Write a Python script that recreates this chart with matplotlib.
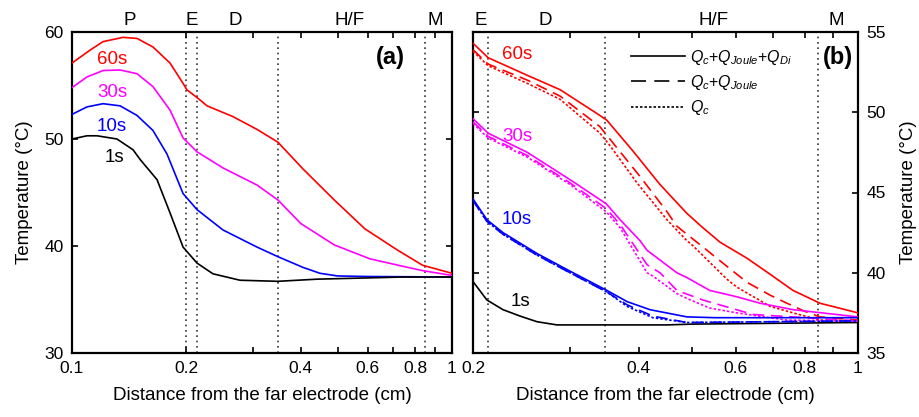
import matplotlib
matplotlib.use("Agg")
import matplotlib.pyplot as plt
from matplotlib.ticker import FixedLocator, FixedFormatter, NullLocator
from matplotlib.lines import Line2D
from matplotlib import font_manager

names = {f.name for f in font_manager.fontManager.ttflist}
fam = ['Liberation Sans Narrow'] if 'Liberation Sans Narrow' in names else ['Liberation Sans']
plt.rcParams['font.family'] = fam + ['DejaVu Sans']
plt.rcParams['mathtext.fontset'] = 'custom'
plt.rcParams['mathtext.it'] = fam[0] + ':italic'
plt.rcParams['mathtext.rm'] = fam[0]

# ---------------- data: panel (a) ----------------
a_red_x = [0.1, 0.1115, 0.1207, 0.1362, 0.1483, 0.1633, 0.1811, 0.196, 0.2006, 0.2146, 0.2266, 0.2649, 0.3067, 0.3483, 0.4054, 0.49, 0.59, 0.72, 0.8368, 1.0]
a_red_y = [57.1, 58.3, 59.1, 59.5, 59.4, 58.6, 57.1, 55.2, 54.6, 53.8, 53.1, 52.1, 50.9, 49.7, 47.2, 44.3, 41.6, 39.6, 38.2, 37.45]
a_mag_x = [0.1, 0.1095, 0.1207, 0.1338, 0.1483, 0.1633, 0.1811, 0.196, 0.2133, 0.2496, 0.3067, 0.3483, 0.40, 0.49, 0.6083, 0.7434, 0.8368, 1.0]
a_mag_y = [54.8, 55.8, 56.4, 56.45, 56.1, 54.9, 52.7, 50.1, 48.8, 47.3, 45.7, 44.3, 42.1, 40.1, 38.8, 38.1, 37.7, 37.25]
a_blu_x = [0.1, 0.1095, 0.1207, 0.1338, 0.1483, 0.1633, 0.1778, 0.196, 0.2133, 0.2496, 0.3067, 0.3483, 0.4054, 0.4494, 0.5, 0.6, 1.0]
a_blu_y = [52.3, 53.0, 53.3, 53.1, 52.2, 50.8, 48.6, 44.9, 43.4, 41.5, 39.9, 39.0, 38.0, 37.45, 37.2, 37.15, 37.1]
a_blk_x = [0.1, 0.1095, 0.1164, 0.1313, 0.1447, 0.151, 0.1674, 0.1811, 0.196, 0.2133, 0.235, 0.2768, 0.3483, 0.4412, 0.7434, 1.0]
a_blk_y = [50.0, 50.3, 50.3, 50.0, 49.0, 48.1, 46.2, 43.1, 39.9, 38.4, 37.4, 36.8, 36.7, 36.9, 37.1, 37.1]

# ---------------- data: panel (b) ----------------
b_red_solid_x = [0.2, 0.213, 0.251, 0.288, 0.340, 0.350, 0.390, 0.437, 0.489, 0.523, 0.562, 0.629, 0.693, 0.762, 0.853, 1.0]
b_red_solid_y = [54.3, 53.4, 52.3, 51.4, 49.8, 49.5, 47.6, 45.5, 43.7, 42.8, 41.9, 40.9, 39.9, 38.9, 38.1, 37.5]
b_red_dash_x = [0.2, 0.213, 0.251, 0.288, 0.340, 0.355, 0.402, 0.45, 0.469, 0.489, 0.532, 0.578, 0.629, 0.693, 0.743, 0.80, 0.853, 1.0]
b_red_dash_y = [53.9, 53.0, 52.0, 51.0, 49.1, 48.3, 46.0, 43.8, 42.9, 42.4, 41.4, 40.4, 39.4, 38.6, 38.1, 37.6, 37.25, 37.05]
b_red_dot_x = [0.2, 0.213, 0.251, 0.288, 0.340, 0.355, 0.397, 0.45, 0.489, 0.501, 0.578, 0.603, 0.693, 0.762, 0.853, 1.0]
b_red_dot_y = [53.8, 52.9, 51.8, 50.8, 48.7, 47.9, 45.6, 43.3, 42.0, 41.7, 39.6, 39.1, 37.9, 37.5, 37.05, 37.0]

b_mag_solid_x = [0.2, 0.213, 0.251, 0.300, 0.349, 0.370, 0.402, 0.414, 0.469, 0.489, 0.538, 0.603, 0.664, 0.762, 1.0]
b_mag_solid_y = [49.6, 48.7, 47.5, 45.8, 44.3, 43.3, 42.0, 41.4, 40.0, 39.7, 38.9, 38.5, 38.1, 37.7, 37.25]
b_mag_dash_x = [0.2, 0.213, 0.251, 0.300, 0.349, 0.370, 0.414, 0.437, 0.469, 0.523, 0.645, 1.0]
b_mag_dash_y = [49.4, 48.5, 47.3, 45.6, 44.0, 43.0, 40.5, 40.0, 38.9, 38.3, 37.4, 37.0]
b_mag_dot_x = [0.2, 0.213, 0.251, 0.300, 0.349, 0.370, 0.414, 0.424, 0.469, 0.489, 0.538, 0.603, 0.743, 1.0]
b_mag_dot_y = [49.3, 48.4, 47.2, 45.5, 43.8, 42.8, 40.0, 39.8, 38.7, 38.4, 37.8, 37.5, 37.05, 37.0]

b_blu_solid_x = [0.2, 0.212, 0.2267, 0.2613, 0.300, 0.350, 0.381, 0.419, 0.489, 0.55, 1.0]
b_blu_solid_y = [44.6, 43.3, 42.5, 41.2, 40.1, 38.9, 38.2, 37.7, 37.25, 37.2, 37.2]
b_blu_dash_x = [0.2, 0.212, 0.2267, 0.2613, 0.300, 0.350, 0.381, 0.424, 0.489, 1.0]
b_blu_dash_y = [44.5, 43.2, 42.4, 41.1, 40.0, 38.8, 38.0, 37.3, 36.9, 37.0]
b_blu_dot_x = [0.2, 0.212, 0.2267, 0.2613, 0.300, 0.350, 0.381, 0.424, 0.489, 1.0]
b_blu_dot_y = [44.5, 43.2, 42.4, 41.1, 40.0, 38.8, 37.9, 37.2, 36.9, 37.0]

b_blk_x = [0.2, 0.212, 0.2267, 0.2435, 0.2613, 0.284, 0.45, 0.5, 0.7, 1.0]
b_blk_y = [39.45, 38.3, 37.7, 37.3, 36.95, 36.75, 36.75, 36.8, 36.85, 36.9]

# region boundaries and labels
boundaries = [0.2, 0.213, 0.348, 0.847]
a_regions = ['P', 'E', 'D', 'H/F', 'M']
a_region_x = [0.142, 0.2065, 0.2685, 0.539, 0.902]
b_regions = ['E', 'D', 'H/F', 'M']
b_region_x = [0.2067, 0.271, 0.547, 0.912]

times = ['60s', '30s', '10s', '1s']
colors = ['#ff0000', '#ff00ff', '#0000ff', '#000000']
a_label_pos = [(0.1274, 57.4), (0.1274, 54.3), (0.1274, 51.2), (0.1297, 48.3)]
b_label_pos = [(0.2404, 53.6), (0.2404, 48.5), (0.2404, 43.3), (0.2435, 38.2)]

legend_labels = ['$Q_c$+$Q_{Joule}$+$Q_{Di}$', '$Q_c$+$Q_{Joule}$', '$Q_c$']

W, H = 920, 417
fig = plt.figure(figsize=(W / 100, H / 100), dpi=100)
axA = fig.add_axes([72 / W, 1 - 353 / H, 380 / W, 321 / H])
axB = fig.add_axes([473 / W, 1 - 353 / H, 385 / W, 321 / H])

LW = 1.2
FS = 12.5

def style(ax, xticks, xlabels, yticks, ylim, xlim):
    ax.set_xscale('log')
    ax.set_xlim(*xlim)
    ax.set_ylim(*ylim)
    ax.xaxis.set_major_locator(FixedLocator(xticks))
    ax.xaxis.set_major_formatter(FixedFormatter(xlabels))
    ax.xaxis.set_minor_locator(NullLocator())
    ax.set_yticks(yticks)
    ax.yaxis.set_minor_locator(NullLocator())
    ax.tick_params(direction='in', top=True, right=True, length=4, width=1.2,
                   labelsize=FS, pad=6)
    for s in ax.spines.values():
        s.set_linewidth(1.6)
    ax.set_xlabel('Distance from the far electrode (cm)', fontsize=FS + 1, labelpad=8)

ticks = [0.1, 0.2, 0.3, 0.4, 0.5, 0.6, 0.7, 0.8, 0.9, 1.0]
tlabels = ['0.1', '0.2', '', '0.4', '', '0.6', '', '0.8', '', '1']
style(axA, ticks, tlabels, [30, 40, 50, 60], (30, 60), (0.1, 1.0))
style(axB, ticks[1:], tlabels[1:], [35, 40, 45, 50, 55], (35, 55), (0.2, 1.0))
axB.yaxis.tick_right()
axB.tick_params(left=True, right=True, direction='in')
axB.yaxis.set_label_position('right')
axA.set_ylabel('Temperature (°C)', fontsize=FS + 1, labelpad=8)
axB.set_ylabel('Temperature (°C)', fontsize=FS + 1, labelpad=10, rotation=90)

dot_style = dict(color='#333333', linestyle=(0, (1, 2.2)), linewidth=1.2, zorder=1)
for b in boundaries:
    axA.axvline(b, **dot_style)
    if b > 0.2:
        axB.axvline(b, **dot_style)

# panel (a) curves
for xs, ys, c in [(a_red_x, a_red_y, colors[0]), (a_mag_x, a_mag_y, colors[1]),
                  (a_blu_x, a_blu_y, colors[2]), (a_blk_x, a_blk_y, colors[3])]:
    axA.plot(xs, ys, color=c, lw=LW, zorder=3, solid_joinstyle='round')

# panel (b) curves
dash = (0, (7, 4))
dotl = (0, (1.5, 1.2))
axB.plot(b_blk_x, b_blk_y, color=colors[3], lw=LW, zorder=3)
for (sx, sy, dx, dy, ox, oy, c) in [
        (b_red_solid_x, b_red_solid_y, b_red_dash_x, b_red_dash_y, b_red_dot_x, b_red_dot_y, colors[0]),
        (b_mag_solid_x, b_mag_solid_y, b_mag_dash_x, b_mag_dash_y, b_mag_dot_x, b_mag_dot_y, colors[1]),
        (b_blu_solid_x, b_blu_solid_y, b_blu_dash_x, b_blu_dash_y, b_blu_dot_x, b_blu_dot_y, colors[2])]:
    axB.plot(sx, sy, color=c, lw=LW, zorder=3, solid_joinstyle='round')
    axB.plot(dx, dy, color=c, lw=LW, linestyle=dash, zorder=3)
    axB.plot(ox, oy, color=c, lw=LW, linestyle=dotl, zorder=3)

# time labels
for t, c, (x, y) in zip(times, colors, a_label_pos):
    axA.text(x, y, t, color=c, fontsize=FS + 1, ha='center', va='center')
for t, c, (x, y) in zip(times, colors, b_label_pos):
    axB.text(x, y, t, color=c, fontsize=FS + 1, ha='center', va='center')

# region labels above the axes
for ax, labs, xs in [(axA, a_regions, a_region_x), (axB, b_regions, b_region_x)]:
    tr = ax.get_xaxis_transform()
    for lab, x in zip(labs, xs):
        ax.text(x, 1.037, lab, transform=tr, ha='center', va='center', fontsize=FS + 1)

axA.text(0.837, 0.922, '(a)', transform=axA.transAxes, ha='center', va='center',
         fontsize=17, fontweight='bold')
axB.text(0.948, 0.922, '(b)', transform=axB.transAxes, ha='center', va='center',
         fontsize=17, fontweight='bold')

handles = [Line2D([], [], color='black', lw=LW),
           Line2D([], [], color='black', lw=LW, linestyle=(0, (9, 5))),
           Line2D([], [], color='black', lw=LW, linestyle=(0, (1.5, 1.2)))]
axB.legend(handles, legend_labels, loc='upper left', bbox_to_anchor=(0.372, 0.995),
           frameon=False, fontsize=11.5, handlelength=3.4, handletextpad=0.35,
           labelspacing=0.38, borderaxespad=0.5)

fig.savefig('out.png', dpi=100)
